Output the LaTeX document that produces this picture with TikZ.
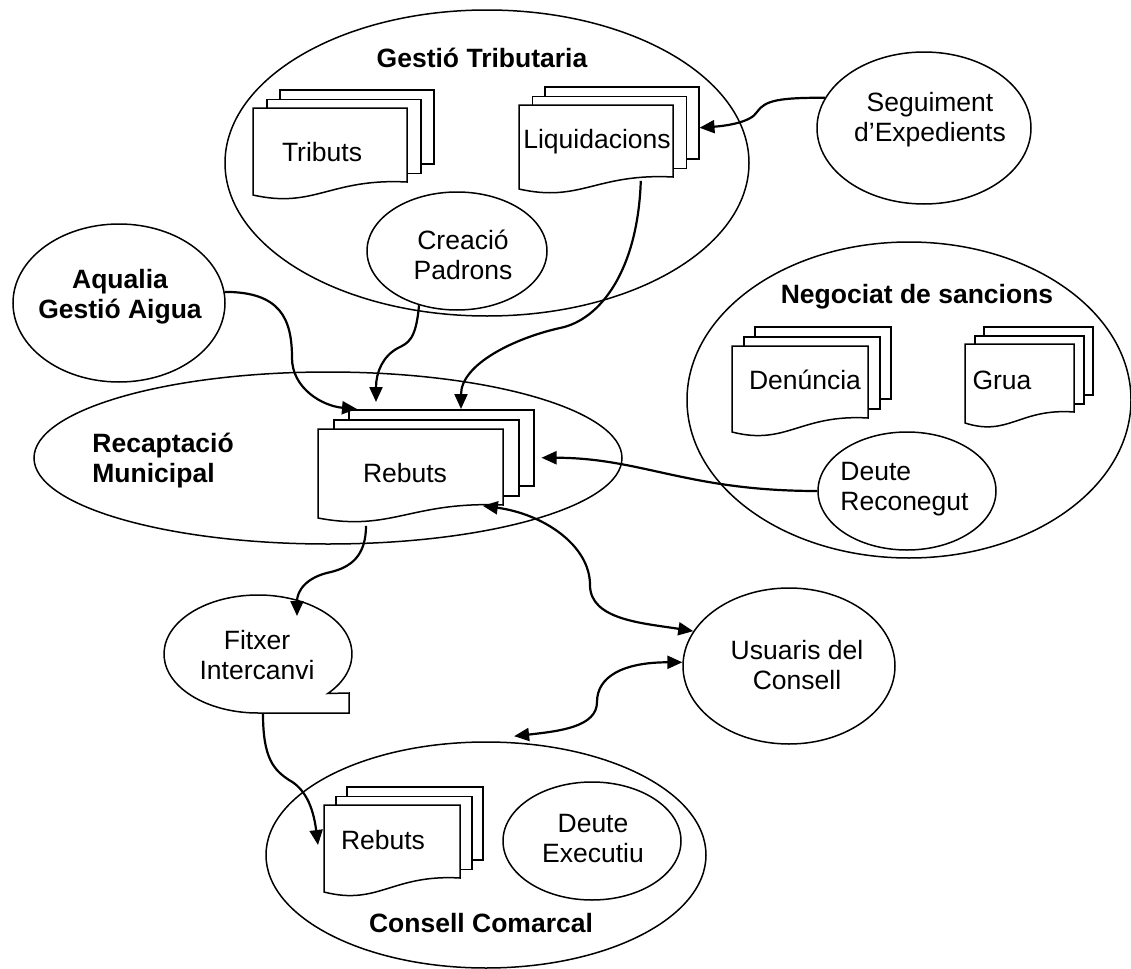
\documentclass[tikz,border=0pt]{standalone}
\usepackage{fontspec}
\setmainfont{Liberation Sans}
\usetikzlibrary{shapes.geometric,arrows.meta}

\newcommand{\docstack}[8]{%
\node[page,minimum width={#4*0.5pt},minimum height={#6*0.5pt}] (#1-3) at (#2+2*#7,#3-2*#8) {};
\node[page,minimum width={#4*0.5pt},minimum height={#6*0.5pt}] (#1-2) at (#2+#7,#3-#8) {};
\filldraw[line width=0.75pt,fill=white] (#2,#3) -- (#2+#4,#3) -- (#2+#4,#3+#6)
	.. controls (#2+0.5*#4,#3+#6-4) and (#2+0.4*#4,#3+#5+14) .. (#2,#3+#5) -- cycle;
\node[inner sep=0pt,anchor=north west,minimum width={#4*0.5pt},minimum height={#5*0.5pt}] (#1-1) at (#2,#3) {};
}

\begin{document}
\begin{tikzpicture}[x=0.5pt,y=-0.5pt,
			every node/.style={font=\fontsize{13.25}{15}\selectfont},
			ell/.style={ellipse,draw,line width=0.75pt,inner sep=0pt},
			page/.style={rectangle,draw,fill=white,line width=0.75pt,inner sep=0pt,anchor=north west},
			head/.style={font=\fontsize{13.25}{15}\selectfont\bfseries},
			txt/.style={align=center,inner sep=0pt},
			arr/.style={line width=1.1pt,-{Triangle[length=7.5pt,width=6.5pt]}},
			dbl/.style={line width=1.1pt,{Triangle[length=7.5pt,width=6.5pt]}-{Triangle[length=7.5pt,width=6.5pt]}},]
\useasboundingbox (0,0) rectangle (1131,969);
\node[ell,minimum width=262pt,minimum height=153pt] (gestio) at (487,163) {};
\node[head] (gestio-t) at (482,58) {Gestió Tributaria};
\node[ell,minimum width=107pt,minimum height=76pt] (seguiment) at (924,128) {};
\node[txt] (seguiment-t) at (930,120) {Seguiment\\d’Expedients};
\node[ell,minimum width=106pt,minimum height=79pt] (aqualia) at (119,303) {};
\node[txt,head] (aqualia-t) at (120,297) {Aqualia\\Gestió Aigua};
\node[ell,minimum width=222pt,minimum height=158pt] (negociat) at (909,400) {};
\node[head] (negociat-t) at (917,297) {Negociat de sancions};
\node[ell,minimum width=294pt,minimum height=86pt] (recaptacio) at (328,458) {};
\node[txt,head,align=left,anchor=west] (recaptacio-t) at (92,461) {Recaptació\\Municipal};
\node[ell,minimum width=106pt,minimum height=78pt] (usuaris) at (789,666) {};
\node[txt] (usuaris-t) at (797,665) {Usuaris del\\Consell};
\node[ell,minimum width=220pt,minimum height=113pt] (consell) at (486,855) {};
\node[head] (consell-t) at (481,923) {Consell Comarcal};

\docstack{trib}{253}{108}{154}{87}{74}{13}{9.5}
\node (trib-t) at (322,152) {Tributs};
\docstack{liq}{519}{105}{154}{84}{72}{12.5}{9.5}
\node (liq-t) at (597,142) {Liquidacions};
\node[ell,fill=white,minimum width=90pt,minimum height=59pt] (creacio) at (457,251) {};
\node[txt] (creacio-t) at (463,255) {Creació\\Padrons};
\docstack{reb}{318}{429}{185}{89}{76}{15}{10}
\node (reb-t) at (405,473) {Rebuts};
\docstack{den}{732}{346}{136}{86}{72}{11}{10}
\node (den-t) at (805,380) {Denúncia};
\docstack{grua}{965}{344}{109}{79}{68}{9}{9}
\node (grua-t) at (1002,380) {Grua};
\node[ell,fill=white,minimum width=89pt,minimum height=59pt] (deuterec) at (907,491) {};
\node[txt,align=left,anchor=west] (deuterec-t) at (840,489) {Deute\\Reconegut};
\node[ell,draw=none,minimum width=94pt,minimum height=59pt] (fitxer) at (258,654) {};
\draw[line width=0.75pt] ([shift={(-42:47pt and 29.5pt)}]fitxer.center)
	arc[start angle=-42,end angle=270,x radius=47pt,y radius=29.5pt] -- ++(91,0) -- ++(0,-20) -- cycle;
\node[txt] (fitxer-t) at (257,655) {Fitxer\\Intercanvi};
\docstack{crb}{324}{805}{136}{87}{73}{11}{9.5}
\node (crb-t) at (383,840) {Rebuts};
\node[ell,minimum width=89pt,minimum height=59pt] (deuteexe) at (592,841) {};
\node[txt] (deuteexe-t) at (593,839) {Deute\\Executiu};

\draw[arr] (seguiment.163) .. controls +(-45,0) and +(8,-12) .. (757,112)
	.. controls +(-6,10) and +(28,-2) .. ([yshift=-2.5pt]liq-3.east);
\draw[arr] ([shift={(-16.5pt,4.5pt)}]liq-1.south east) .. controls +(-3,90) and +(40,-8) .. (560,328)
	.. controls +(-45,10) and +(0,-45) .. ([xshift=56.5pt]reb-3.north west);
\draw[arr] (creacio.235) .. controls +(-3,35) and +(10,-5) .. (398,348)
	.. controls +(-15,8) and +(0,-30) .. ([shift={(14pt,3.5pt)}]reb-3.north west);
\draw[arr] (aqualia.6) .. controls +(55,0) and +(0,-40) .. (292,358)
	.. controls +(0,30) and +(-35,-3) .. ([xshift=4.5pt]reb-3.north west);
\draw[arr] (deuterec.west) .. controls +(-130,0) and +(100,0) .. ([shift={(3.5pt,-5pt)}]reb-3.east);
\draw[dbl] ([shift={(-10.5pt,6.5pt)}]reb-1.south east) .. controls +(60,8) and +(0,-40) .. (590,585)
	.. controls +(0,35) and +(-50,-8) .. (usuaris.160);
\draw[dbl] (usuaris.178) .. controls +(-60,0) and +(0,-25) .. (597,702)
	.. controls +(0,25) and +(45,-5) .. ([yshift=3pt]consell.76);
\draw[arr] ([shift={(24pt,-3.5pt)}]reb-1.south west) .. controls +(0,30) and +(20,-5) .. (331,572)
	.. controls +(-25,5) and +(0,-25) .. ([shift={(19.5pt,19pt)}]fitxer.center);
\draw[arr] ([xshift=2.5pt]fitxer.south) .. controls +(0,45) and +(-15,-10) .. (289,780)
	.. controls +(15,8) and +(-5,-40) .. ([shift={(-3pt,-20pt)}]crb-1.north west);
\end{tikzpicture}
\end{document}
